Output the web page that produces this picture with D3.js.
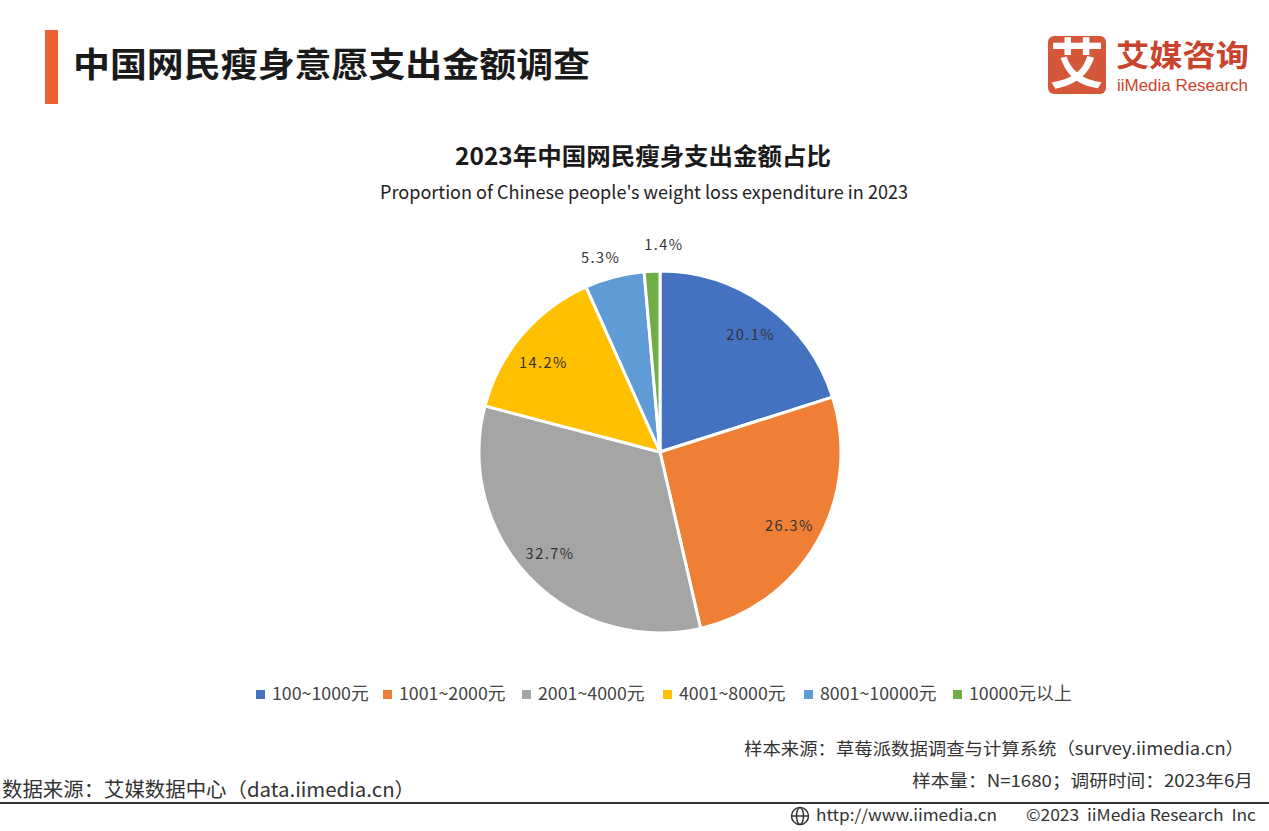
<!DOCTYPE html>
<html><head><meta charset="utf-8">
<script src="https://cdn.jsdelivr.net/npm/d3@7/dist/d3.min.js"></script>
<style>html,body{margin:0;padding:0;background:#fff}svg{display:block}text{font-family:"Noto Sans CJK SC","Noto Sans",sans-serif}</style>
</head><body><svg id="c" width="1269" height="831"></svg>
<script>
const categories=["100~1000元","1001~2000元","2001~4000元","4001~8000元","8001~10000元","10000元以上"];
const seriesValues=[20.1,26.3,32.7,14.2,5.3,1.4];
const colors=["#4472C0","#F07F36","#A5A5A5","#FFC000","#5F9BD5","#70AD47"];
const legendX=[256,383,522,663,804,953];
const labelRadius=[148,149,150,147,203,207];
const labelNudge=[1.6,0,1.2,-2.8,-2.4,3.6];

const svg=d3.select("#c");
function txt(x,y,s,size,o={}){
  const t=svg.append("text").attr("x",x).attr("y",y).text(s).attr("font-size",size)
    .attr("fill",o.fill||"#222").attr("font-weight",o.weight||400).attr("text-anchor",o.anchor||"start")
    .attr("textLength",o.len||null).attr("lengthAdjust",o.len?"spacingAndGlyphs":null);
  if(o.family)t.style("font-family",o.family);
  return t;
}
// header
svg.append("rect").attr("x",45).attr("y",30).attr("width",13).attr("height",74).attr("fill","#EE5F34");
txt(73,77,"中国网民瘦身意愿支出金额调查",34,{weight:700,fill:"#1a1a1a",len:517});
// logo
svg.append("rect").attr("x",1048).attr("y",36).attr("width",58).attr("height",58).attr("rx",6).attr("fill","#D5573A");
txt(1077,84,"艾",54,{weight:700,fill:"#fff",anchor:"middle"});
txt(1116,66,"艾媒咨询",30,{weight:700,fill:"#C9442C",len:133});
txt(1117,90.5,"iiMedia Research",17,{fill:"#C9442C",len:131,family:"'Liberation Sans',sans-serif"});
// titles
txt(643,165,"2023年中国网民瘦身支出金额占比",24,{weight:700,anchor:"middle",fill:"#1a1a1a",len:376});
txt(644,199,"Proportion of Chinese people's weight loss expenditure in 2023",18.5,{anchor:"middle",fill:"#222",len:528});
// pie
const cx=660,cy=452,R=181;
const g=svg.append("g").attr("transform",`translate(${cx},${cy})`);
const pie=d3.pie().sort(null).value(d=>d)(seriesValues);
const arc=d3.arc().innerRadius(0).outerRadius(R);
g.selectAll("path").data(pie).join("path").attr("d",arc)
  .attr("fill",(d,i)=>colors[i]).attr("stroke","#fff").attr("stroke-width",3).attr("stroke-linejoin","round");
function labelPos(d,i){
  const a=(d.startAngle+d.endAngle)/2+labelNudge[i]*Math.PI/180;
  return [labelRadius[i]*Math.sin(a),-labelRadius[i]*Math.cos(a)];
}
g.selectAll("text").data(pie).join("text")
  .attr("transform",(d,i)=>`translate(${labelPos(d,i)})`)
  .attr("text-anchor","middle").attr("dy","0.35em").attr("font-size",14.5).attr("letter-spacing",1.5)
  .attr("fill","#333").text(d=>d.value.toFixed(1)+"%");
// legend
categories.forEach((c,i)=>{
  svg.append("rect").attr("x",legendX[i]).attr("y",690).attr("width",9).attr("height",9).attr("fill",colors[i]);
  txt(legendX[i]+16,699.5,c,17.8,{fill:"#444"});
});
// footer
txt(1244,755,"样本来源：草莓派数据调查与计算系统（survey.iimedia.cn）",17,{anchor:"end",fill:"#333",len:500});
txt(1253,787,"样本量：N=1680；调研时间：2023年6月",17,{anchor:"end",fill:"#333",len:341});
txt(2,797,"数据来源：艾媒数据中心（data.iimedia.cn）",20,{fill:"#333",len:413});
svg.append("rect").attr("x",0).attr("y",802).attr("width",1269).attr("height",2).attr("fill","#333");
const gi=svg.append("g").attr("fill","none").attr("stroke","#333").attr("stroke-width",1.5);
gi.append("circle").attr("cx",800).attr("cy",816).attr("r",8.5);
gi.append("ellipse").attr("cx",800).attr("cy",816).attr("rx",3.5).attr("ry",8.5);
gi.append("line").attr("x1",791.5).attr("x2",808.5).attr("y1",816).attr("y2",816);
txt(816,821,"http://www.iimedia.cn",16,{fill:"#333",len:181});
txt(1026,821,"©2023\u00a0\u00a0iiMedia Research\u00a0\u00a0Inc",16,{fill:"#333",len:230});
</script></body></html>
